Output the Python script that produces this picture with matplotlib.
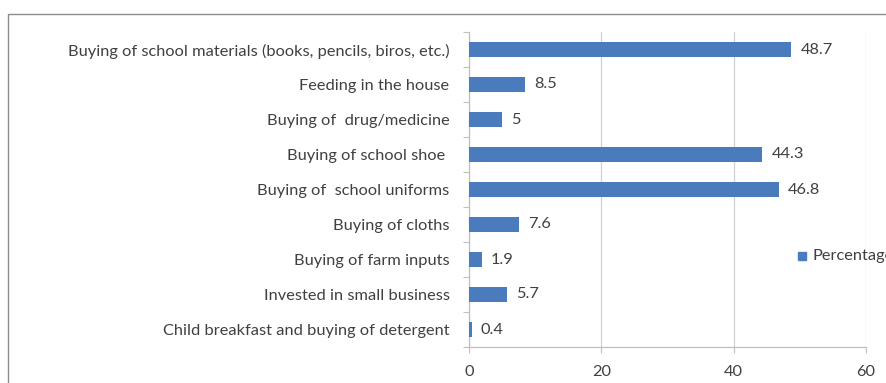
import matplotlib
matplotlib.use("Agg")
import matplotlib.pyplot as plt
from matplotlib.patches import Rectangle
import numpy as np

categories = [
    "Buying of school materials (books, pencils, biros, etc.)",
    "Feeding in the house",
    "Buying of  drug/medicine",
    "Buying of school shoe ",
    "Buying of  school uniforms",
    "Buying of cloths",
    "Buying of farm inputs",
    "Invested in small business",
    "Child breakfast and buying of detergent",
]
percentages = [48.7, 8.5, 5, 44.3, 46.8, 7.6, 1.9, 5.7, 0.4]
value_labels = ["48.7", "8.5", "5", "44.3", "46.8", "7.6", "1.9", "5.7", "0.4"]
x_ticks = [0, 20, 40, 60]
series_name = "Percentage"

plt.rcParams["font.family"] = ["Lato", "DejaVu Sans"]
W, H = 886, 383
fig = plt.figure(figsize=(W / 100, H / 100), dpi=100)
fig.patch.set_facecolor("white")

# outer chart frame (runs off the right/bottom edges)
fig.patches.append(Rectangle((8 / W, -0.05), 1.2, (H - 14) / H + 0.05,
                             transform=fig.transFigure, fill=False,
                             edgecolor="#8c8c8c", linewidth=1.0))

left, right = 469 / W, 866 / W
top, bottom = 1 - 32 / H, 1 - 347 / H
ax = fig.add_axes([left, bottom, right - left, top - bottom])

bar_color = "#4a7bbd"
text_color = "#404040"
fs = 11.8
y = np.arange(len(categories))
ax.barh(y, percentages, height=0.42, color=bar_color, zorder=3)
for yi, v, lab in zip(y, percentages, value_labels):
    ax.text(v + 1.4, yi, lab, va="center", ha="left", fontsize=fs,
            color=text_color)

ax.set_ylim(len(categories) - 0.5, -0.5)
ax.set_xlim(0, 60)
ax.set_xticks(x_ticks)
ax.set_xticklabels([str(t) for t in x_ticks], fontsize=fs, color=text_color)
ax.set_yticks(y)
ax.set_yticklabels(categories, fontsize=fs, color=text_color)
ax.tick_params(axis="y", length=0, pad=14)
ax.set_yticks(np.arange(-0.5, len(categories)), minor=True)
ax.tick_params(axis="y", which="minor", length=4, color="#bfbfbf", width=0.8)
ax.tick_params(axis="x", length=4, color="#bfbfbf", width=0.8, pad=9)

ax.grid(axis="x", color="#d0d0d0", linewidth=0.9, zorder=0)
for s in ["top", "right"]:
    ax.spines[s].set_visible(False)
for s in ["left", "bottom"]:
    ax.spines[s].set_color("#bfbfbf")
    ax.spines[s].set_linewidth(0.9)

# legend entry, partly cut off at the right edge
fig.patches.append(Rectangle((798 / W, 1 - 260 / H), 8 / W, 8 / H,
                             transform=fig.transFigure, color=bar_color))
fig.text(812 / W, 1 - 256 / H, series_name, fontsize=fs, color=text_color,
         va="center", ha="left")

fig.savefig("out.png", dpi=100)
